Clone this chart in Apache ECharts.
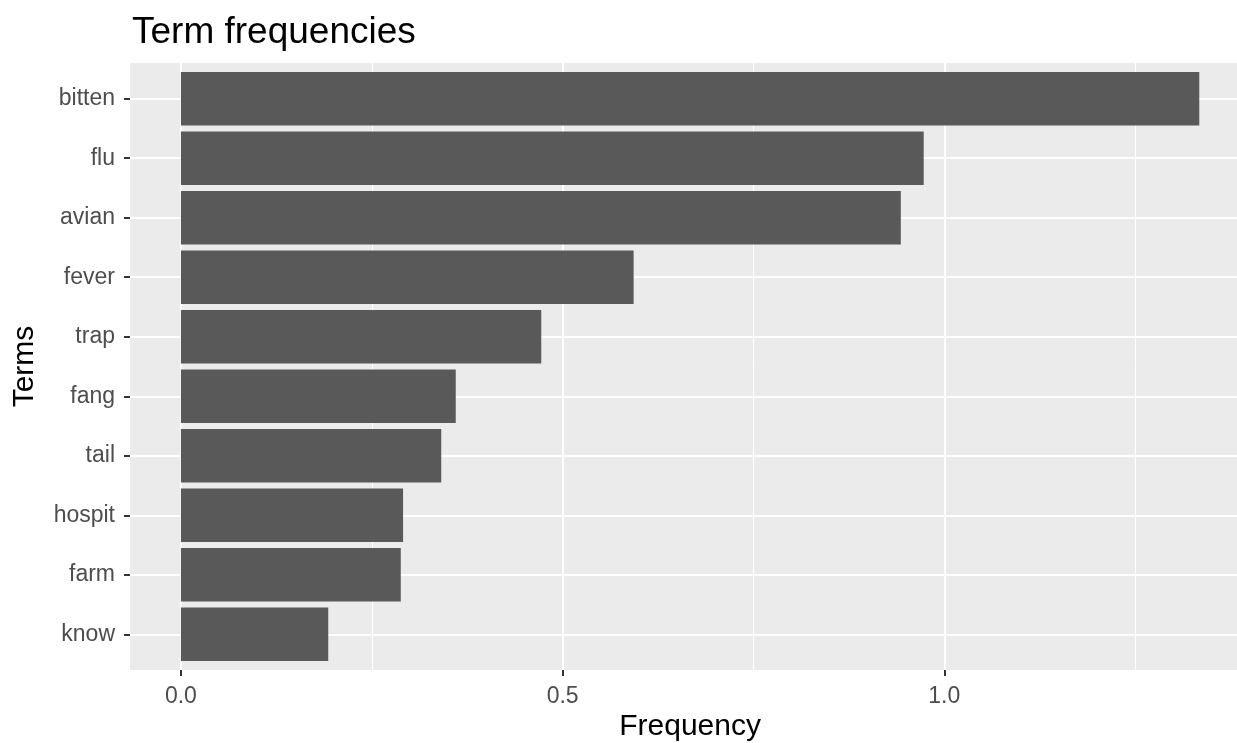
<!DOCTYPE html>
<html>
<head>
<meta charset="utf-8">
<script src="https://cdn.jsdelivr.net/npm/echarts@6/dist/echarts.min.js"></script>
<style>
html,body{margin:0;padding:0;background:#fff;}
#chart{width:1237px;height:743px;}
</style>
</head>
<body>
<div id="chart"></div>
<script>
const titleText = 'Term frequencies';
const xAxisTitle = 'Frequency';
const yAxisTitle = 'Terms';
const terms = ['bitten', 'flu', 'avian', 'fever', 'trap', 'fang', 'tail', 'hospit', 'farm', 'know'];
const frequencies = [1.334, 0.973, 0.943, 0.593, 0.472, 0.360, 0.341, 0.291, 0.288, 0.193];
const xTickValues = [0, 0.5, 1.0];

const FONT = '"Liberation Sans", Arial, sans-serif';
const maxVal = Math.max(...frequencies);
const expand = maxVal * 0.05;
const xMin = -expand, xMax = maxVal + expand;

// panel geometry
const pLeft = 130, pTop = 63, pHeight = 607;
const pxPerUnit = 763.4;
const pWidth = (xMax - xMin) * pxPerUnit;
const zeroX = pLeft + (0 - xMin) * pxPerUnit;
const band = pHeight / (terms.length - 1 + 1.2);

const chart = echarts.init(document.getElementById('chart'), null, {renderer: 'canvas'});
chart.setOption({
  animation: false,
  backgroundColor: '#ffffff',
  title: {
    text: titleText, left: 132, top: 14, padding: 0,
    textStyle: {fontFamily: FONT, fontSize: 37, fontWeight: 'normal', color: '#000000'}
  },
  graphic: [
    {type: 'rect', z: -10, silent: true,
     shape: {x: pLeft, y: pTop, width: pWidth, height: pHeight},
     style: {fill: '#EBEBEB'}},
    {type: 'text', z: 10, x: pLeft + pWidth / 2, y: 727,
     style: {text: xAxisTitle, textAlign: 'center', textVerticalAlign: 'middle',
             font: '30px ' + FONT, fill: '#000000'}},
    {type: 'text', z: 10, x: 25, y: pTop + pHeight / 2, rotation: Math.PI / 2,
     style: {text: yAxisTitle, textAlign: 'center', textVerticalAlign: 'middle',
             font: '30px ' + FONT, fill: '#000000'}}
  ],
  grid: [
    {left: zeroX, top: pTop, width: (xMax - 0) * pxPerUnit, height: pHeight,
     containLabel: false, outerBoundsMode: 'none'},
    {left: pLeft, top: pTop + band * 0.1, width: pWidth, height: band * terms.length,
     containLabel: false, outerBoundsMode: 'none'}
  ],
  xAxis: [
    {type: 'value', gridIndex: 0, min: 0, max: xMax, interval: 0.5,
     axisLine: {show: false, onZero: false},
     axisTick: {show: true, length: 6, lineStyle: {color: '#333333', width: 2},
                customValues: xTickValues},
     axisLabel: {margin: 15, fontFamily: FONT, fontSize: 23, color: '#4D4D4D',
                 customValues: xTickValues,
                 formatter: v => v.toFixed(1)},
     splitLine: {show: true, lineStyle: {color: '#FFFFFF', width: 2}},
     minorTick: {show: false, splitNumber: 2},
     minorSplitLine: {show: true, lineStyle: {color: '#FFFFFF', width: 1}}},
    {type: 'value', gridIndex: 1, min: xMin, max: xMax, show: false}
  ],
  yAxis: [
    {type: 'value', gridIndex: 0, show: false},
    {type: 'category', gridIndex: 1, data: terms, inverse: true,
     axisLine: {show: false, onZero: false},
     axisTick: {show: true, length: 6, alignWithLabel: true, lineStyle: {color: '#333333', width: 2}},
     axisLabel: {margin: 15, fontFamily: FONT, fontSize: 23, color: '#4D4D4D'},
     splitLine: {show: true, alignWithLabel: true, lineStyle: {color: '#FFFFFF', width: 2}}}
  ],
  series: [
    {type: 'bar', xAxisIndex: 1, yAxisIndex: 1, data: frequencies,
     barWidth: '90%', itemStyle: {color: '#595959'}, silent: true}
  ]
});
</script>
</body>
</html>
